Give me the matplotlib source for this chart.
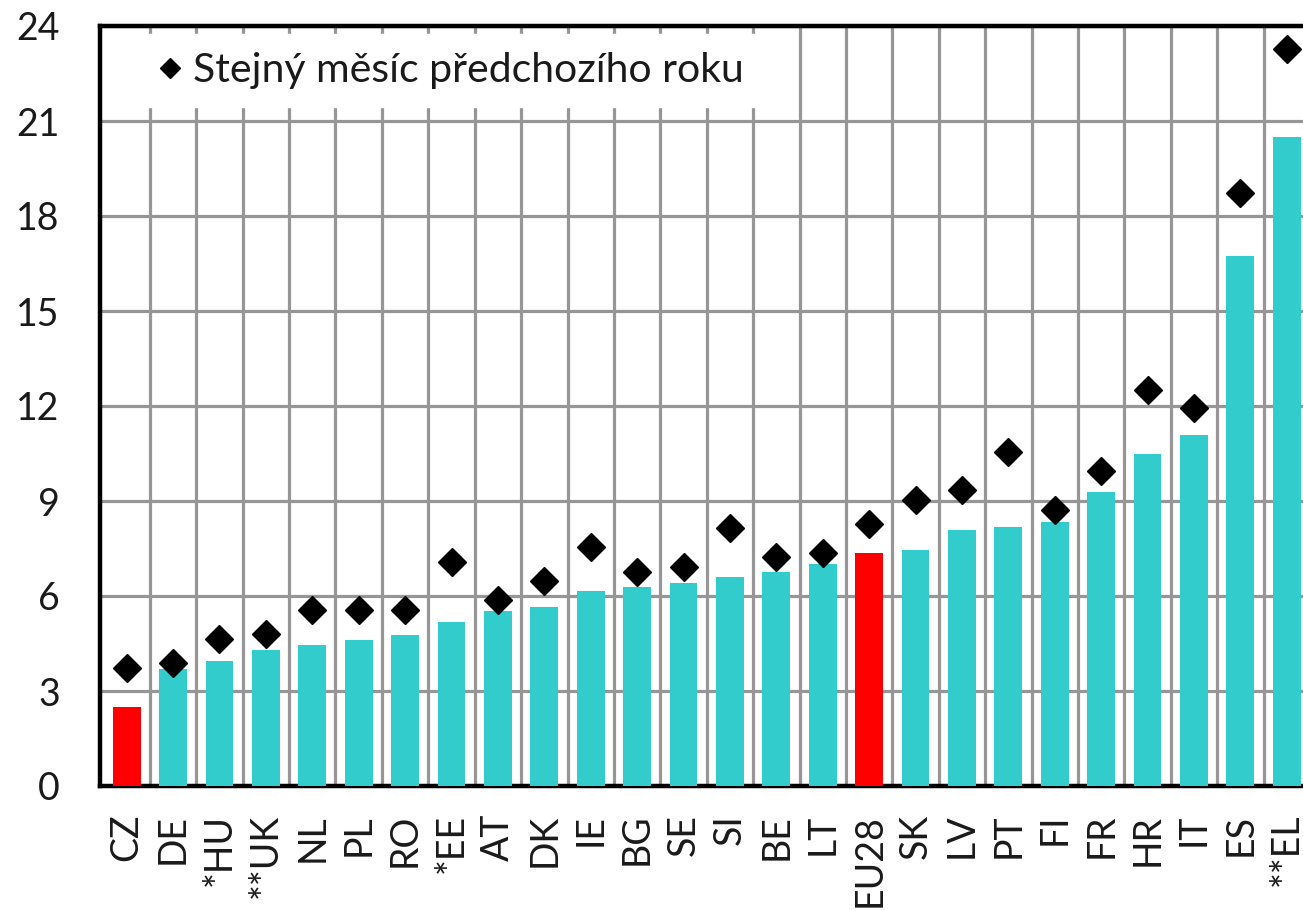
import numpy as np
import matplotlib
matplotlib.use("Agg")
import matplotlib.pyplot as plt
from matplotlib.ticker import MultipleLocator, FixedLocator

plt.rcParams['font.family'] = ['Lato', 'DejaVu Sans']

# --- data ---
countries = ["CZ", "DE", "*HU", "**UK", "NL", "PL", "RO", "*EE", "AT", "DK",
             "IE", "BG", "SE", "SI", "BE", "LT", "EU28", "SK", "LV", "PT",
             "FI", "FR", "HR", "IT", "ES", "**EL"]
current = [2.5, 3.7, 3.95, 4.3, 4.45, 4.6, 4.77, 5.18, 5.52, 5.65,
           6.16, 6.28, 6.41, 6.6, 6.76, 7.0, 7.36, 7.45, 8.08, 8.18,
           8.34, 9.28, 10.5, 11.1, 16.75, 20.5]
prev_year = [3.73, 3.9, 4.64, 4.8, 5.56, 5.56, 5.56, 7.07, 5.87, 6.47,
             7.55, 6.76, 6.92, 8.14, 7.23, 7.36, 8.27, 9.03, 9.35, 10.55,
             8.72, 9.95, 12.5, 11.93, 18.72, 23.27]
highlight = ["CZ", "EU28"]
legend_label = "Stejný měsíc předchozího roku"

TEAL = "#33CCCC"
RED = "#FF0000"
GRID = "#969696"
TXT = "#1a1a1a"

fig = plt.figure(figsize=(13.03, 9.10), dpi=100)
ax = fig.add_axes([100 / 1303, 124 / 910, 1 - 100 / 1303, (786 - 26) / 910])

x = np.arange(len(countries))
colors = [RED if c in highlight else TEAL for c in countries]
ax.bar(x, current, width=0.6, color=colors, zorder=3)
ax.plot(x, prev_year, linestyle="none", marker="D", markersize=14,
        color="black", zorder=4, label=legend_label)

ax.set_xlim(-0.575, 25.35)
ax.set_ylim(0, 24)
ax.yaxis.set_major_locator(MultipleLocator(3))
ax.set_xticks(x)
ax.set_xticklabels(countries, rotation=90, fontsize=27, color=TXT)
ax.xaxis.set_minor_locator(FixedLocator(x[:-1] + 0.5))
ax.tick_params(axis="y", labelsize=27, labelcolor=TXT, length=0, pad=29)
ax.tick_params(axis="x", which="both", length=0, pad=20)

ax.grid(axis="y", which="major", color=GRID, linewidth=2.3, zorder=1)
ax.grid(axis="x", which="minor", color=GRID, linewidth=2.3, zorder=1)
ax.set_axisbelow(True)

for side in ["left", "bottom", "top"]:
    ax.spines[side].set_linewidth(3.2)
    ax.spines[side].set_color("black")
ax.spines["right"].set_visible(False)

leg = ax.legend(loc="upper left", bbox_to_anchor=(0.03, 0.99), frameon=True,
                fontsize=29.5, markerscale=0.75, handlelength=0.75,
                handletextpad=0.2, borderpad=0.45, borderaxespad=0.0,
                labelcolor=TXT)
leg.get_frame().set_facecolor("white")
leg.get_frame().set_edgecolor("white")
leg.get_frame().set_alpha(1)
leg.get_frame().set_boxstyle("square", pad=0.0)
leg.set_zorder(5)

fig.savefig("out.png", dpi=100)
